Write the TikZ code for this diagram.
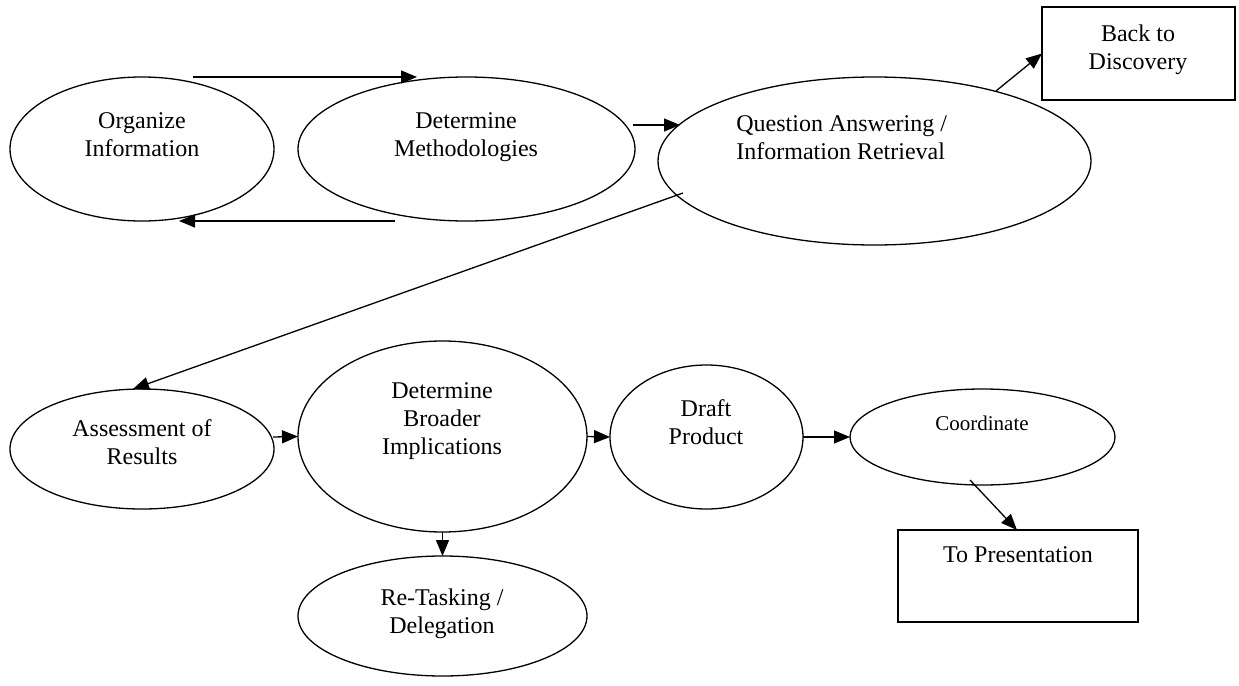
\documentclass[tikz,border=0pt]{standalone}
\usepackage{fontspec}
\setmainfont{Liberation Serif}
\usetikzlibrary{arrows.meta,shapes.geometric}
\begin{document}
\begin{tikzpicture}[x=0.5pt,y=-0.5pt,
  shapeline/.style={draw=black, line width=0.65pt},
  oval/.style={shapeline, ellipse, inner sep=0pt, outer sep=0pt},
  rbox/.style={shapeline, rectangle, inner sep=0pt, outer sep=0pt},
  lbl/.style={align=center, font=\fontsize{12}{14}\selectfont, inner sep=0pt, text depth=0pt},
  conn/.style={line width=0.65pt, -{Triangle[length=8pt,width=6.5pt]}},
]
\fill[white] (0,0) rectangle (1239,686);
\useasboundingbox (0,0) rectangle (1239,686);

% shapes
\node[oval, minimum width=132pt,   minimum height=72pt]   (org) at (142,149)     {};
\node[oval, minimum width=168.5pt, minimum height=72pt]   (dm)  at (466.5,149)   {};
\node[oval, minimum width=216.5pt, minimum height=84pt]   (qa)  at (874.5,161)   {};
\node[rbox, minimum width=96.5pt,  minimum height=46.5pt] (bd)  at (1138.5,53.5) {};
\node[oval, minimum width=132pt,   minimum height=60pt]   (as)  at (142,449)     {};
\node[oval, minimum width=144.5pt, minimum height=95.5pt] (dbi) at (442.5,436.5) {};
\node[oval, minimum width=144.5pt, minimum height=60pt]   (rt)  at (442.5,616)   {};
\node[oval, minimum width=96.5pt,  minimum height=72pt]   (dr)  at (706.5,437)   {};
\node[oval, minimum width=132.5pt, minimum height=48pt]   (co)  at (982.5,437)   {};
\node[rbox, minimum width=120pt,   minimum height=46pt]   (tp)  at (1018,576)    {};

% texts
\node[lbl] (org-t) at (142,134.5) {Organize\\Information};
\node[lbl] (dm-t) at (466,134.5) {Determine\\Methodologies};
\node[lbl, align=left, anchor=west] (qa-t) at (736,138) {Question Answering /\\Information Retrieval};
\node[lbl] (bd-t) at (1138,47.5) {Back to\\Discovery};
\node[lbl] (as-t) at (142,442.5) {Assessment of\\Results};
\node[lbl] (dbi-t) at (442,418.5) {Determine\\Broader\\Implications};
\node[lbl] (rt-t) at (442,611.5) {Re-Tasking /\\Delegation};
\node[lbl] (dr-t) at (706,422) {Draft\\Product};
\node[lbl, font=\fontsize{10.5}{12}\selectfont] (co-t) at (982,423) {Coordinate};
\node[lbl] (tp-t) at (1018,555) {To Presentation};

% connectors
\draw[conn] ([xshift=25.5pt]org.north) -- ([xshift=-24.75pt]dm.north);
\draw[conn] ([xshift=-35.75pt]dm.south) -- ([xshift=18.5pt]org.south);
\draw[conn] ([xshift=-1pt,yshift=12pt]dm.east) -- ([xshift=11pt,yshift=18pt]qa.west);
\draw[conn] ([xshift=60.75pt,yshift=-7pt]qa.north) -- (bd.west);
\draw[conn] ([xshift=12.5pt,yshift=-16pt]qa.west) -- ([xshift=-4.5pt]as.north);
\draw[conn] ([xshift=-0.5pt,yshift=6pt]as.east) -- (dbi.west);
\draw[conn] (dbi.east) -- (dr.west);
\draw[conn] (dr.east) -- (co.west);
\draw[conn] (dbi.south) -- (rt.north);
\draw[conn] ([xshift=-6.25pt,yshift=2.5pt]co.south) -- ([xshift=-0.5pt]tp.north);
\end{tikzpicture}
\end{document}
